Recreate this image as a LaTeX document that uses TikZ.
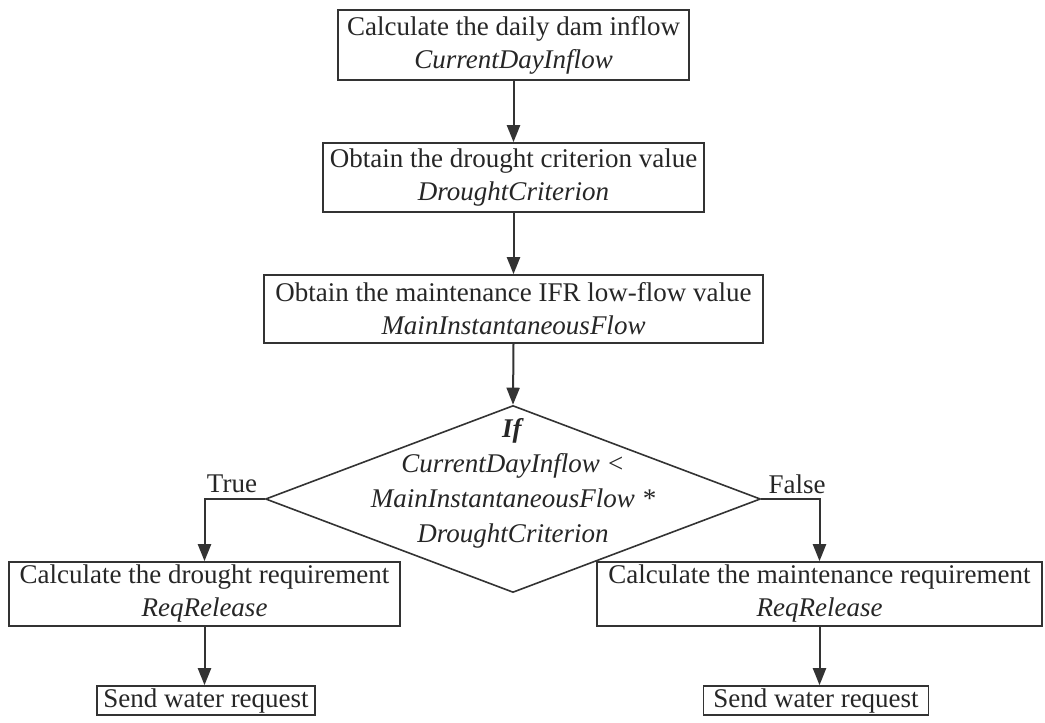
\documentclass[tikz,border=0pt]{standalone}
\usepackage{fontspec}
\setmainfont{Liberation Serif}
\usetikzlibrary{arrows.meta,shapes.geometric}
\definecolor{linec}{HTML}{333333}
\definecolor{textc}{HTML}{262626}
\begin{document}
\begin{tikzpicture}[x=1pt,y=-1pt,
  every node/.style={font=\fontsize{27}{33}\selectfont, text=textc},
  box/.style={draw=linec, line width=1.6pt, inner sep=0pt, align=center, fill=white},
  decision/.style={diamond, draw=linec, line width=1.6pt, inner sep=0pt},
  flow/.style={draw=linec, line width=2pt, -{Triangle[length=17pt,width=13pt]}},
]
\useasboundingbox[fill=white] (0,0) rectangle (1045,723);

% process steps
\node[box, minimum width=351pt, minimum height=70pt] (inflow) at (513.5,45)
  {Calculate the daily dam inflow\\\textit{CurrentDayInflow}};
\node[box, minimum width=381pt, minimum height=69pt] (drought) at (513.5,177.5)
  {Obtain the drought criterion value\\\textit{DroughtCriterion}};
\node[box, minimum width=499pt, minimum height=68pt] (ifr) at (513.5,309)
  {Obtain the maintenance IFR low-flow value\\\textit{MainInstantaneousFlow}};

% decision
\node[decision, minimum width=495pt, minimum height=187pt] (dec) at (513,499) {};
\node[align=center, font=\fontsize{27}{35}\selectfont] (dectext) at (513,483)
  {\textbf{\textit{If}}\\\textit{CurrentDayInflow <}\\\textit{MainInstantaneousFlow *}\\\textit{DroughtCriterion}};

% branches
\node[box, minimum width=391pt, minimum height=64pt] (dreq) at (204.5,594)
  {Calculate the drought requirement\\\textit{ReqRelease}};
\node[box, minimum width=445pt, minimum height=64pt] (mreq) at (819.5,594)
  {Calculate the maintenance requirement\\\textit{ReqRelease}};
\node[box, minimum width=218pt, minimum height=29pt] (dsend) at (206,700.5)
  {Send water request};
\node[box, minimum width=225pt, minimum height=29pt] (msend) at (816,700.5)
  {Send water request};

\node (truelab) at (232,484) {True};
\node (falselab) at (797,484) {False};

% connectors
\draw[flow] (inflow.south) -- (drought.north);
\draw[flow] (drought.south) -- (ifr.north);
\draw[flow] (ifr.south) -- (dec.north);
\draw[flow] (dec.west) -| (dreq.north);
\draw[flow] (dec.east) -| (mreq.north);
\draw[flow] (dreq.south) -- (dreq.south |- dsend.north);
\draw[flow] (mreq.south) -- (mreq.south |- msend.north);
\end{tikzpicture}
\end{document}
